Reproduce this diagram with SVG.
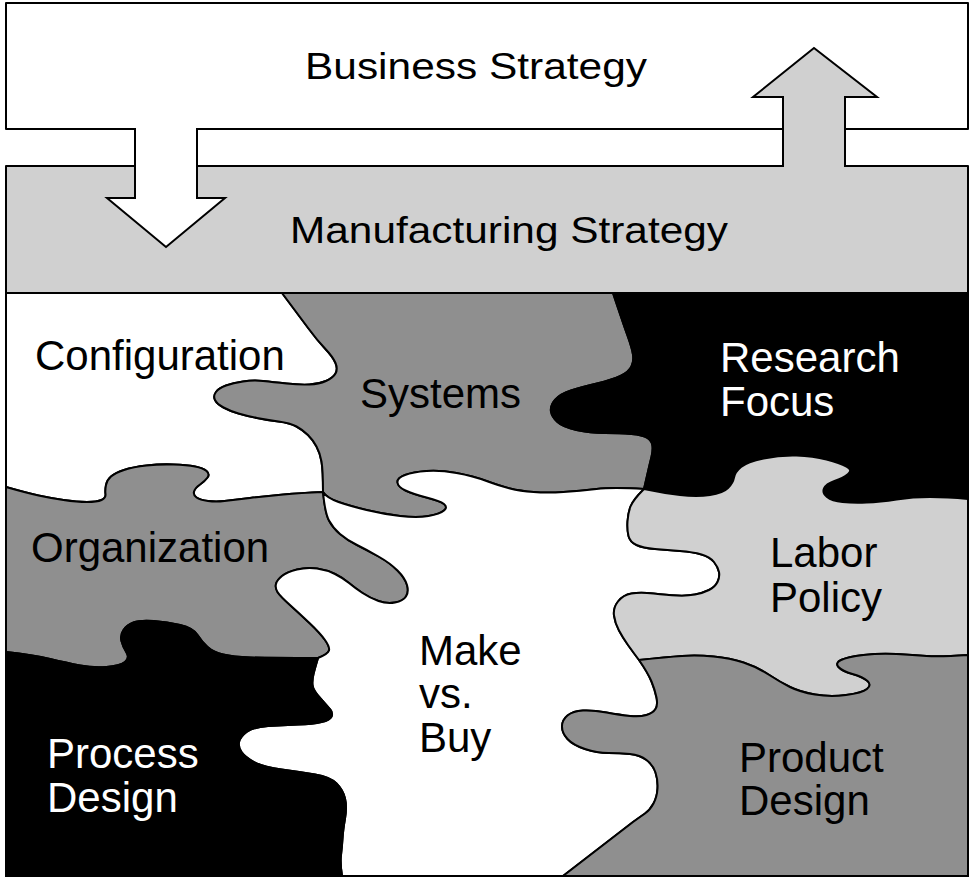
<svg xmlns="http://www.w3.org/2000/svg" width="971" height="879" viewBox="0 0 971 879">
<style>
.o{stroke:#000;stroke-width:2;stroke-linejoin:round;stroke-linecap:square}
.t{font-family:"Liberation Sans",Arial,Helvetica,sans-serif;font-size:42px;fill:#000}
.h{font-family:"Liberation Sans",Arial,Helvetica,sans-serif;font-size:37px;fill:#000}
.wt{fill:#fff}
.white{fill:#fff}
.light{fill:#d0d0d0}
.gray{fill:#8f8f8f}
.black{fill:#000}
.ln{fill:none;stroke:#000;stroke-width:2;stroke-linejoin:miter}
</style>
<rect width="971" height="879" fill="#fff"/>
<g id="business-strategy">
<rect class="white o" x="6" y="3" width="962" height="126"/>
<text class="h" x="305" y="79" textLength="342" lengthAdjust="spacingAndGlyphs">Business Strategy</text>
</g>
<g id="manufacturing-strategy">
<rect class="light o" x="6" y="166" width="962" height="127"/>
<text class="h" x="290" y="243" textLength="438" lengthAdjust="spacingAndGlyphs">Manufacturing Strategy</text>
</g>
<g id="connectors">
<polygon class="white" points="136,125 196,125 196,198 225,198 166,247 107,198 136,198"/>
<polyline class="ln" points="135,129 135,198 107,198 166,247 225,198 197,198 197,129"/>
<polygon class="light" points="784,170 784,97 753,97 814,48 877,97 844,97 844,170"/>
<polyline class="ln" points="783,166 783,97 753,97 814,48 877,97 845,97 845,166"/>
</g>
<g id="configuration">
<path class="white o" d="M6,293 L282,293 Q300,317 308.5,328.5 Q317,340 325,348.5 Q333,357 335.5,363 Q338,369 335.5,373.5 Q333,378 326,381 Q319,384 309.5,384.5 Q300,385 286.5,383.5 Q273,382 263,381 Q253,380 243,381.5 Q233,383 226,385.5 Q219,388 216,392 Q213,396 215,400 Q217,404 223.5,407.5 Q230,411 238.5,413.5 Q247,416 257,418 Q267,420 278.5,421.5 Q290,423 296.5,426.5 Q303,430 308,435 Q313,440 316.5,446.5 Q320,453 321.5,461.5 Q323,470 323,492 Q300,493 283.5,494.5 Q267,496 250,498 Q233,500 224.5,501 Q216,502 208,501 Q200,500 196.5,497.5 Q193,495 194,491.5 Q195,488 200,484.5 Q205,481 207.5,477.5 Q210,474 206.5,471 Q203,468 195,466.5 Q187,465 173.5,464.5 Q160,464 146.5,465.5 Q133,467 124,470 Q115,473 111,476.5 Q107,480 106,485 Q105,490 105.5,494 Q106,498 101.5,500 Q97,502 87,502 Q77,502 63.5,500 Q50,498 38.5,495.5 Q27,493 6,487 Z"/>
<text class="t" x="35" y="370">Configuration</text>
</g>
<g id="systems">
<path class="gray o" d="M282,293 L613,293 Q623,323 627.5,335.5 Q632,348 633,354.5 Q634,361 631.5,366.5 Q629,372 620.5,376 Q612,380 597,383.5 Q582,387 571,390.5 Q560,394 555,400 Q550,406 551,411.5 Q552,417 557.5,422 Q563,427 576.5,430 Q590,433 605,433 Q620,433 631.5,434 Q643,435 647.5,438 Q652,441 652.5,446 Q653,451 651.5,457 Q650,463 648.5,469.5 Q647,476 644,489 Q613,487 596.5,489 Q580,491 563.5,492 Q547,493 533.5,492 Q520,491 510,488.5 Q500,486 486.5,481 Q473,476 456.5,473 Q440,470 426.5,471 Q413,472 405,475 Q397,478 397.5,482.5 Q398,487 405.5,490.5 Q413,494 426.5,497.5 Q440,501 444,504 Q448,507 444,510.5 Q440,514 428.5,516 Q417,518 400,516 Q383,514 366.5,510 Q350,506 338.5,502 Q327,498 323,492 Q323,470 321.5,461.5 Q320,453 316.5,446.5 Q313,440 308,435 Q303,430 296.5,426.5 Q290,423 278.5,421.5 Q267,420 257,418 Q247,416 238.5,413.5 Q230,411 223.5,407.5 Q217,404 215,400 Q213,396 216,392 Q219,388 226,385.5 Q233,383 243,381.5 Q253,380 263,381 Q273,382 286.5,383.5 Q300,385 309.5,384.5 Q319,384 326,381 Q333,378 335.5,373.5 Q338,369 335.5,363 Q333,357 325,348.5 Q317,340 308.5,328.5 Q300,317 282,293 Z"/>
<text class="t" x="360" y="408">Systems</text>
</g>
<g id="research-focus">
<path class="black o" d="M613,293 L968,293 L968,499 Q947,497 930,497 Q913,497 896.5,499.5 Q880,502 866.5,502.5 Q853,503 842.5,502 Q832,501 827,497 Q822,493 824,488.5 Q826,484 834.5,481 Q843,478 848,474 Q853,470 846.5,466.5 Q840,463 826.5,459.5 Q813,456 796.5,455.5 Q780,455 763.5,458.5 Q747,462 741,467 Q735,472 734,477.5 Q733,483 728,488 Q723,493 710,495 Q697,497 680,495 Q663,493 644,489 Q647,476 648.5,469.5 Q650,463 651.5,457 Q653,451 652.5,446 Q652,441 647.5,438 Q643,435 631.5,434 Q620,433 605,433 Q590,433 576.5,430 Q563,427 557.5,422 Q552,417 551,411.5 Q550,406 555,400 Q560,394 571,390.5 Q582,387 597,383.5 Q612,380 620.5,376 Q629,372 631.5,366.5 Q634,361 633,354.5 Q632,348 627.5,335.5 Q623,323 613,293 Z"/>
<text class="t wt" x="720" y="372">Research</text>
<text class="t wt" x="720" y="416">Focus</text>
</g>
<g id="organization">
<path class="gray o" d="M6,487 Q27,493 38.5,495.5 Q50,498 63.5,500 Q77,502 87,502 Q97,502 101.5,500 Q106,498 105.5,494 Q105,490 106,485 Q107,480 111,476.5 Q115,473 124,470 Q133,467 146.5,465.5 Q160,464 173.5,464.5 Q187,465 195,466.5 Q203,468 206.5,471 Q210,474 207.5,477.5 Q205,481 200,484.5 Q195,488 194,491.5 Q193,495 196.5,497.5 Q200,500 208,501 Q216,502 224.5,501 Q233,500 250,498 Q267,496 283.5,494.5 Q300,493 323,492 Q325,513 329,520.5 Q333,528 340,534 Q347,540 357,545 Q367,550 378.5,556.5 Q390,563 397.5,570.5 Q405,578 407,585 Q409,592 406,596.5 Q403,601 395,602.5 Q387,604 378.5,601 Q370,598 362.5,593 Q355,588 349,583 Q343,578 335,574 Q327,570 317,568.5 Q307,567 297,569.5 Q287,572 282,576 Q277,580 276,584 Q275,588 277.5,592 Q280,596 290,605 Q300,614 310,623.5 Q320,633 325,640 Q330,647 329,650.5 Q328,654 318,658 Q267,658 250,657.5 Q233,657 223,654.5 Q213,652 207.5,647 Q202,642 197.5,635 Q193,628 180,625 Q167,622 153.5,621 Q140,620 133.5,622.5 Q127,625 123.5,630 Q120,635 121.5,641 Q123,647 126.5,652.5 Q130,658 125,662 Q120,666 106.5,667 Q93,668 80,665.5 Q67,663 50,659 Q33,655 6,652 Z"/>
<text class="t" x="31" y="562">Organization</text>
</g>
<g id="make-vs-buy">
<path class="white o" d="M323,492 Q327,498 338.5,502 Q350,506 366.5,510 Q383,514 400,516 Q417,518 428.5,516 Q440,514 444,510.5 Q448,507 444,504 Q440,501 426.5,497.5 Q413,494 405.5,490.5 Q398,487 397.5,482.5 Q397,478 405,475 Q413,472 426.5,471 Q440,470 456.5,473 Q473,476 486.5,481 Q500,486 510,488.5 Q520,491 533.5,492 Q547,493 563.5,492 Q580,491 596.5,489 Q613,487 644,489 Q633,500 630.5,506.5 Q628,513 627.5,521.5 Q627,530 628.5,536 Q630,542 636.5,545 Q643,548 655,549 Q667,550 680,551 Q693,552 701.5,554.5 Q710,557 714,562 Q718,567 719,572 Q720,577 717.5,582 Q715,587 709,590 Q703,593 695,594.5 Q687,596 677,595.5 Q667,595 653.5,593.5 Q640,592 631.5,593.5 Q623,595 618,601.5 Q613,608 614,615.5 Q615,623 619,630.5 Q623,638 628,645 Q633,652 639,660 Q648,673 651.5,681.5 Q655,690 656.5,697.5 Q658,705 655.5,709 Q653,713 646.5,715 Q640,717 630,716 Q620,715 606.5,712.5 Q593,710 583,710.5 Q573,711 567.5,715.5 Q562,720 562,726.5 Q562,733 567.5,739 Q573,745 585,749 Q597,753 608.5,753 Q620,753 630,754 Q640,755 646.5,760 Q653,765 655.5,772.5 Q658,780 657.5,788.5 Q657,797 653.5,803.5 Q650,810 645,813.5 Q640,817 633,822 L563,876 L342,876 Q340,863 341,855 Q342,847 342.5,838.5 Q343,830 345,818.5 Q347,807 345,798.5 Q343,790 336.5,783.5 Q330,777 315,774.5 Q300,772 281.5,769.5 Q263,767 254,762 Q245,757 241.5,752 Q238,747 239,742 Q240,737 246.5,732 Q253,727 268,726 Q283,725 298,724.5 Q313,724 321.5,722 Q330,720 331.5,716.5 Q333,713 330.5,710 Q328,707 320.5,698.5 Q313,690 312.5,685 Q312,680 313.5,674 Q315,668 318,658 Q328,654 329,650.5 Q330,647 325,640 Q320,633 310,623.5 Q300,614 290,605 Q280,596 277.5,592 Q275,588 276,584 Q277,580 282,576 Q287,572 297,569.5 Q307,567 317,568.5 Q327,570 335,574 Q343,578 349,583 Q355,588 362.5,593 Q370,598 378.5,601 Q387,604 395,602.5 Q403,601 406,596.5 Q409,592 407,585 Q405,578 397.5,570.5 Q390,563 378.5,556.5 Q367,550 357,545 Q347,540 340,534 Q333,528 329,520.5 Q325,513 323,492 Z"/>
<text class="t" x="419" y="665">Make</text>
<text class="t" x="419" y="708">vs.</text>
<text class="t" x="419" y="752">Buy</text>
</g>
<g id="labor-policy">
<path class="light o" d="M644,489 Q663,493 680,495 Q697,497 710,495 Q723,493 728,488 Q733,483 734,477.5 Q735,472 741,467 Q747,462 763.5,458.5 Q780,455 796.5,455.5 Q813,456 826.5,459.5 Q840,463 846.5,466.5 Q853,470 848,474 Q843,478 834.5,481 Q826,484 824,488.5 Q822,493 827,497 Q832,501 842.5,502 Q853,503 866.5,502.5 Q880,502 896.5,499.5 Q913,497 930,497 Q947,497 968,499 L968,655 Q940,657 926.5,656 Q913,655 896.5,654 Q880,653 863.5,655 Q847,657 841,660 Q835,663 838.5,667 Q842,671 852.5,674 Q863,677 867.5,681 Q872,685 867,689 Q862,693 846,695 Q830,697 815,694.5 Q800,692 790,687 Q780,682 768.5,674.5 Q757,667 743.5,662.5 Q730,658 713.5,656.5 Q697,655 682,656 Q667,657 639,660 Q633,652 628,645 Q623,638 619,630.5 Q615,623 614,615.5 Q613,608 618,601.5 Q623,595 631.5,593.5 Q640,592 653.5,593.5 Q667,595 677,595.5 Q687,596 695,594.5 Q703,593 709,590 Q715,587 717.5,582 Q720,577 719,572 Q718,567 714,562 Q710,557 701.5,554.5 Q693,552 680,551 Q667,550 655,549 Q643,548 636.5,545 Q630,542 628.5,536 Q627,530 627.5,521.5 Q628,513 630.5,506.5 Q633,500 644,489 Z"/>
<text class="t" x="770" y="567">Labor</text>
<text class="t" x="770" y="612">Policy</text>
</g>
<g id="process-design">
<path class="black o" d="M6,652 Q33,655 50,659 Q67,663 80,665.5 Q93,668 106.5,667 Q120,666 125,662 Q130,658 126.5,652.5 Q123,647 121.5,641 Q120,635 123.5,630 Q127,625 133.5,622.5 Q140,620 153.5,621 Q167,622 180,625 Q193,628 197.5,635 Q202,642 207.5,647 Q213,652 223,654.5 Q233,657 250,657.5 Q267,658 318,658 Q315,668 313.5,674 Q312,680 312.5,685 Q313,690 320.5,698.5 Q328,707 330.5,710 Q333,713 331.5,716.5 Q330,720 321.5,722 Q313,724 298,724.5 Q283,725 268,726 Q253,727 246.5,732 Q240,737 239,742 Q238,747 241.5,752 Q245,757 254,762 Q263,767 281.5,769.5 Q300,772 315,774.5 Q330,777 336.5,783.5 Q343,790 345,798.5 Q347,807 345,818.5 Q343,830 342.5,838.5 Q342,847 341,855 Q340,863 342,876 L6,876 Z"/>
<text class="t wt" x="47" y="768">Process</text>
<text class="t wt" x="47" y="812">Design</text>
</g>
<g id="product-design">
<path class="gray o" d="M639,660 Q667,657 682,656 Q697,655 713.5,656.5 Q730,658 743.5,662.5 Q757,667 768.5,674.5 Q780,682 790,687 Q800,692 815,694.5 Q830,697 846,695 Q862,693 867,689 Q872,685 867.5,681 Q863,677 852.5,674 Q842,671 838.5,667 Q835,663 841,660 Q847,657 863.5,655 Q880,653 896.5,654 Q913,655 926.5,656 Q940,657 968,655 L968,876 L563,876 L633,822 Q640,817 645,813.5 Q650,810 653.5,803.5 Q657,797 657.5,788.5 Q658,780 655.5,772.5 Q653,765 646.5,760 Q640,755 630,754 Q620,753 608.5,753 Q597,753 585,749 Q573,745 567.5,739 Q562,733 562,726.5 Q562,720 567.5,715.5 Q573,711 583,710.5 Q593,710 606.5,712.5 Q620,715 630,716 Q640,717 646.5,715 Q653,713 655.5,709 Q658,705 656.5,697.5 Q655,690 651.5,681.5 Q648,673 639,660 Z"/>
<text class="t" x="739" y="772">Product</text>
<text class="t" x="739" y="815">Design</text>
</g>
<rect class="ln" x="6" y="293" width="962" height="583"/>
</svg>
